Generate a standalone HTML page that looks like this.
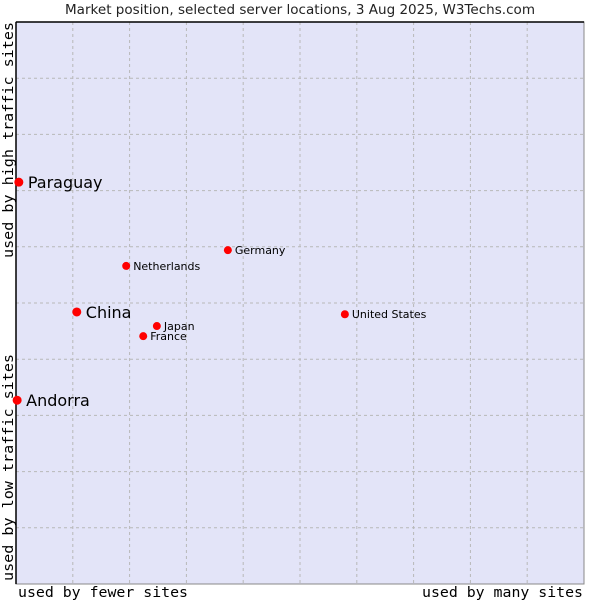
<!DOCTYPE html>
<html><head><meta charset="utf-8"><style>
body{margin:0;background:#fff;width:600px;height:600px;overflow:hidden}
svg{display:block}
</style></head><body>
<svg id="chart" width="600" height="600" font-family="'DejaVu Sans', sans-serif">
<text x="65" y="14" textLength="470" lengthAdjust="spacingAndGlyphs" font-size="13" fill="#222">Market position, selected server locations, 3 Aug 2025, W3Techs.com</text>
<rect x="16" y="22" width="568" height="562" fill="#e3e4f8" stroke="#888"/>
<g id="grid"></g>
<line x1="16" y1="22" x2="584" y2="22" stroke="#000" stroke-width="1.5"/>
<line x1="16" y1="22" x2="16" y2="584" stroke="#000" stroke-width="1.5"/>
<g id="points"></g>
<text x="18" y="597" textLength="170" lengthAdjust="spacingAndGlyphs" font-family="'DejaVu Sans Mono', monospace" font-size="14" fill="#000">used by fewer sites</text>
<text x="422" y="597" textLength="161" lengthAdjust="spacingAndGlyphs" font-family="'DejaVu Sans Mono', monospace" font-size="14" fill="#000">used by many sites</text>
<text transform="translate(13,258) rotate(-90)" textLength="236" lengthAdjust="spacingAndGlyphs" font-family="'DejaVu Sans Mono', monospace" font-size="14" fill="#000">used by high traffic sites</text>
<text transform="translate(13,581) rotate(-90)" textLength="227" lengthAdjust="spacingAndGlyphs" font-family="'DejaVu Sans Mono', monospace" font-size="14" fill="#000">used by low traffic sites</text>
</svg>
<script>
const names=["Paraguay","Andorra","China","Netherlands","Germany","Japan","France","United States"];
const xVals=[0.05,0.02,1.07,1.94,3.73,2.48,2.24,5.79];
const yVals=[7.15,3.27,4.84,5.66,5.94,4.59,4.41,4.80];
const big=[true,true,true,false,false,false,false,false];
const L=16,T=22,W=568,H=562;
const sx=v=>L+v/10*W, sy=v=>T+H-v/10*H;
const ns="http://www.w3.org/2000/svg";
const grid=document.getElementById('grid');
for(let i=1;i<10;i++){
 const a=document.createElementNS(ns,'line');
 
 
 a.setAttribute('x1',sx(i));a.setAttribute('x2',sx(i));a.setAttribute('y1',T);a.setAttribute('y2',T+H);
 a.setAttribute('stroke','#b8b8b8');a.setAttribute('stroke-dasharray','3,3');grid.appendChild(a);
 const b=document.createElementNS(ns,'line');
 
 
 b.setAttribute('y1',sy(i));b.setAttribute('y2',sy(i));b.setAttribute('x1',L);b.setAttribute('x2',L+W);
 b.setAttribute('stroke','#b8b8b8');b.setAttribute('stroke-dasharray','3,3');grid.appendChild(b);
}
const pts=document.getElementById('points');
names.forEach((n,i)=>{
 const x=sx(xVals[i]),y=sy(yVals[i]);
 const c=document.createElementNS(ns,'circle');
 
 
 c.setAttribute('cx',x);c.setAttribute('cy',y);c.setAttribute('r',big[i]?4.5:4);c.setAttribute('fill','#f00');
 pts.appendChild(c);
 const t=document.createElementNS(ns,'text');
 
 
 t.setAttribute('x',x+(big[i]?9:7));t.setAttribute('y',y+(big[i]?6:4));
 t.setAttribute('font-size',big[i]?16:11);t.setAttribute('fill','#000');
 t.textContent=n;pts.appendChild(t);
});
</script>
</body></html>
